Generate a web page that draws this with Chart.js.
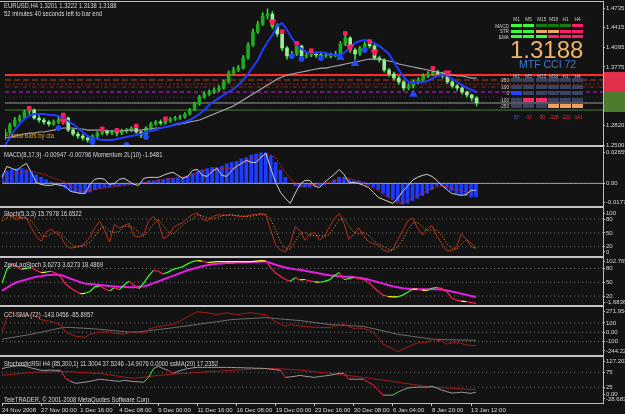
<!DOCTYPE html>
<html>
<head>
<meta charset="utf-8">
<script src="https://cdn.jsdelivr.net/npm/chart.js@4.4.1/dist/chart.umd.min.js"></script>
<style>
  html, body { margin: 0; padding: 0; background: #131313; }
  #wrap { position: relative; width: 625px; height: 414px; overflow: hidden; background: #131313; }
  #wrap canvas { position: absolute; left: 0; }
  .txt { position: absolute; white-space: nowrap; font-family: "Liberation Sans", Arial, sans-serif; font-size: 7px; line-height: 7px; color: #d8d8d8; transform: scaleX(0.84); transform-origin: 0 0; }
  .box { position: absolute; }
</style>
</head>
<body>
<div id="wrap"></div>
<script>
// ---- data: 8-hour bars ----
const dateTicks = ["24 Nov 2008", "27 Nov 00:00", "1 Dec 16:00", "4 Dec 08:00", "9 Dec 00:00", "11 Dec 16:00",
  "16 Dec 08:00", "19 Dec 00:00", "23 Dec 16:00", "30 Dec 08:00", "6 Jan 04:00", "8 Jan 20:00", "13 Jan 12:00"];

const opens = [1.2650,1.2713,1.2827,1.2909,1.2941,1.3039,1.3072,1.2941,1.2909,1.2876,
  1.2844,1.2876,1.2909,1.2941,1.2746,1.2680,1.2648,1.2615,1.2583,1.2648,
  1.2697,1.2729,1.2697,1.2713,1.2697,1.2729,1.2746,1.2778,1.2713,1.2664,
  1.2778,1.2844,1.2876,1.2860,1.2892,1.2925,1.2941,1.2958,1.3007,1.3072,
  1.3170,1.3284,1.3333,1.3365,1.3398,1.3431,1.3529,1.3675,1.3724,1.3757,
  1.3920,1.4132,1.4344,1.4474,1.4605,1.4637,1.4441,1.4311,1.4083,1.3953,
  1.3985,1.4116,1.3953,1.3969,1.3985,1.3969,1.3953,1.3969,1.3953,1.3985,
  1.4148,1.4246,1.4050,1.3985,1.4083,1.4148,1.4116,1.3920,1.3887,1.3724,
  1.3659,1.3594,1.3529,1.3431,1.3463,1.3529,1.3561,1.3626,1.3659,1.3692,
  1.3659,1.3626,1.3529,1.3463,1.3431,1.3365,1.3317,1.3268];
const highs = [1.2760,1.2860,1.2950,1.2990,1.3070,1.3110,1.3090,1.2980,1.2940,1.2900,
  1.2910,1.2950,1.2985,1.2960,1.2770,1.2710,1.2680,1.2640,1.2670,1.2720,
  1.2760,1.2750,1.2740,1.2730,1.2760,1.2770,1.2800,1.2800,1.2730,1.2800,
  1.2870,1.2900,1.2910,1.2920,1.2950,1.2970,1.2990,1.3030,1.3100,1.3200,
  1.3310,1.3370,1.3400,1.3430,1.3470,1.3560,1.3710,1.3770,1.3800,1.3960,
  1.4170,1.4390,1.4520,1.4660,1.4720,1.4680,1.4480,1.4350,1.4110,1.4030,
  1.4170,1.4130,1.4010,1.4040,1.4020,1.4000,1.4000,1.4000,1.4030,1.4190,
  1.4310,1.4270,1.4080,1.4110,1.4180,1.4190,1.4140,1.3950,1.3910,1.3750,
  1.3690,1.3620,1.3550,1.3500,1.3560,1.3600,1.3660,1.3700,1.3740,1.3720,
  1.3690,1.3660,1.3550,1.3490,1.3450,1.3380,1.3330,1.3290];
const lows = [1.2590,1.2690,1.2800,1.2880,1.2920,1.3000,1.2920,1.2870,1.2840,1.2810,
  1.2820,1.2850,1.2880,1.2720,1.2650,1.2610,1.2580,1.2545,1.2560,1.2620,
  1.2670,1.2660,1.2670,1.2650,1.2670,1.2700,1.2720,1.2690,1.2620,1.2640,
  1.2760,1.2820,1.2830,1.2840,1.2870,1.2900,1.2920,1.2940,1.2990,1.3060,
  1.3150,1.3260,1.3310,1.3340,1.3370,1.3410,1.3510,1.3650,1.3700,1.3740,
  1.3900,1.4110,1.4320,1.4450,1.4560,1.4400,1.4270,1.4040,1.3900,1.3920,
  1.3960,1.3910,1.3920,1.3940,1.3930,1.3920,1.3930,1.3920,1.3940,1.3960,
  1.4120,1.4010,1.3850,1.3960,1.4050,1.4080,1.3890,1.3850,1.3690,1.3620,
  1.3560,1.3490,1.3390,1.3400,1.3430,1.3500,1.3540,1.3600,1.3640,1.3620,
  1.3590,1.3500,1.3430,1.3390,1.3330,1.3280,1.3220,1.3138];
const closes = [1.2713,1.2827,1.2909,1.2941,1.3039,1.3072,1.2941,1.2909,1.2876,1.2844,
  1.2876,1.2909,1.2941,1.2746,1.2680,1.2648,1.2615,1.2583,1.2648,1.2697,
  1.2729,1.2697,1.2713,1.2697,1.2729,1.2746,1.2778,1.2713,1.2664,1.2778,
  1.2844,1.2876,1.2860,1.2892,1.2925,1.2941,1.2958,1.3007,1.3072,1.3170,
  1.3284,1.3333,1.3365,1.3398,1.3431,1.3529,1.3675,1.3724,1.3757,1.3920,
  1.4132,1.4344,1.4474,1.4605,1.4637,1.4441,1.4311,1.4083,1.3953,1.3985,
  1.4116,1.3953,1.3969,1.3985,1.3969,1.3953,1.3969,1.3953,1.3985,1.4148,
  1.4246,1.4050,1.3985,1.4083,1.4148,1.4116,1.3920,1.3887,1.3724,1.3659,
  1.3594,1.3529,1.3431,1.3463,1.3529,1.3561,1.3626,1.3659,1.3692,1.3659,
  1.3626,1.3529,1.3463,1.3431,1.3365,1.3317,1.3268,1.3188];
const fastMA = [1.2501,1.2615,1.2746,1.2843,1.2925,1.2974,1.3006,1.3006,1.3006,1.2990,
  1.2990,1.2974,1.2941,1.2892,1.2843,1.2778,1.2713,1.2647,1.2615,1.2598,
  1.2582,1.2582,1.2582,1.2598,1.2615,1.2631,1.2647,1.2664,1.2680,1.2713,
  1.2729,1.2746,1.2778,1.2794,1.2810,1.2843,1.2859,1.2876,1.2908,1.2957,
  1.3006,1.3071,1.3153,1.3218,1.3267,1.3316,1.3365,1.3414,1.3479,1.3561,
  1.3659,1.3773,1.3887,1.4050,1.4181,1.4295,1.4441,1.4490,1.4376,1.4246,
  1.4132,1.4066,1.4017,1.4001,1.4001,1.4017,1.4001,1.3968,1.3968,1.3968,
  1.4017,1.4099,1.4164,1.4197,1.4213,1.4197,1.4164,1.4115,1.4050,1.3985,
  1.3854,1.3724,1.3610,1.3528,1.3512,1.3528,1.3528,1.3544,1.3593,1.3626,
  1.3642,1.3626,1.3577,1.3528,1.3479,1.3430,1.3398,1.3365];
const slowMA = [1.2615,1.2631,1.2647,1.2664,1.2680,1.2696,1.2696,1.2713,1.2713,1.2729,
  1.2745,1.2762,1.2778,1.2778,1.2778,1.2762,1.2762,1.2745,1.2745,1.2745,
  1.2745,1.2729,1.2729,1.2729,1.2729,1.2745,1.2745,1.2745,1.2745,1.2762,
  1.2762,1.2778,1.2778,1.2794,1.2810,1.2827,1.2843,1.2859,1.2876,1.2892,
  1.2908,1.2941,1.2974,1.3006,1.3039,1.3071,1.3104,1.3137,1.3186,1.3234,
  1.3283,1.3332,1.3381,1.3430,1.3479,1.3528,1.3577,1.3610,1.3642,1.3659,
  1.3675,1.3691,1.3707,1.3724,1.3740,1.3756,1.3756,1.3773,1.3789,1.3805,
  1.3822,1.3838,1.3854,1.3871,1.3887,1.3903,1.3903,1.3903,1.3887,1.3871,
  1.3854,1.3822,1.3805,1.3789,1.3773,1.3756,1.3740,1.3724,1.3707,1.3691,
  1.3675,1.3659,1.3642,1.3626,1.3626,1.3610,1.3593,1.3593];

// horizontal levels across the price window
const levelPrices = [1.3642, 1.3561, 1.3495, 1.3447, 1.3365, 1.3283, 1.3186, 1.3071];
// coloured zones on the price scale
const zoneHigh = [1.3691, 1.3365];
const zoneLow = [1.3365, 1.3039];

// fractal / signal markers: bar index and price
const fractalHighIdx = [5, 12, 20, 23, 27, 33, 57, 60, 63, 70, 75, 88];
const fractalHighVal = [1.3100, 1.2990, 1.2765, 1.2740, 1.2810, 1.2930, 1.4350, 1.4160, 1.4040, 1.4320, 1.4190, 1.3750];
const fractalLowIdx = [11, 18, 25, 29, 59, 61, 65, 74];
const fractalLowVal = [1.2778, 1.2550, 1.2501, 1.2631, 1.3952, 1.3903, 1.3919, 1.4050];
const sellArrowIdx = [12, 55, 71, 76, 91];
const sellArrowVal = [1.2892, 1.4507, 1.4099, 1.4017, 1.3675];
const buyArrowIdx = [69, 72, 84];
const buyArrowVal = [1.3930, 1.3830, 1.3330];
const priceTicks = [1.4735, 1.4415, 1.4095, 1.3775, 1.2820, 1.2500];

const macdHist = [0.008,0.010,0.011,0.012,0.012,0.011,0.009,0.007,0.005,0.003,
  0.001,-0.001,-0.002,-0.004,-0.006,-0.007,-0.008,-0.008,-0.007,-0.005,
  -0.004,-0.003,-0.003,-0.002,-0.002,-0.001,-0.001,-0.001,0.000,0.001,
  0.002,0.002,0.003,0.003,0.004,0.004,0.004,0.005,0.006,0.008,
  0.010,0.011,0.012,0.013,0.013,0.014,0.016,0.017,0.018,0.020,
  0.021,0.023,0.024,0.025,0.025,0.022,0.017,0.011,0.005,0.000,
  -0.002,-0.003,-0.003,-0.003,-0.002,-0.002,-0.001,0.000,0.003,0.005,
  0.005,0.003,0.002,0.002,0.001,-0.001,-0.003,-0.005,-0.008,-0.011,
  -0.013,-0.015,-0.017,-0.016,-0.014,-0.012,-0.010,-0.008,-0.005,-0.002,
  -0.002,-0.004,-0.006,-0.008,-0.009,-0.010,-0.011,-0.011];
const macdSignal = [0.000,0.003,0.006,0.008,0.009,0.010,0.010,0.009,0.008,0.007,
  0.005,0.004,0.002,0.001,-0.002,-0.004,-0.006,-0.007,-0.006,-0.005,
  -0.004,-0.004,-0.003,-0.003,-0.002,-0.002,-0.001,0.000,0.000,0.001,
  0.001,0.002,0.002,0.003,0.004,0.004,0.005,0.005,0.006,0.007,
  0.008,0.010,0.011,0.011,0.011,0.012,0.012,0.012,0.014,0.016,
  0.018,0.020,0.021,0.022,0.023,0.023,0.021,0.015,0.009,0.004,
  0.000,-0.002,-0.002,-0.001,-0.001,0.000,0.000,0.001,0.002,0.003,
  0.004,0.004,0.003,0.002,0.000,-0.002,-0.004,-0.006,-0.009,-0.011,
  -0.014,-0.016,-0.016,-0.014,-0.012,-0.010,-0.008,-0.006,-0.004,-0.003,
  -0.002,-0.003,-0.004,-0.005,-0.006,-0.007,-0.008,-0.009];
const momentum = [0.0049,0.0138,0.0122,0.0106,0.0138,0.0163,0.0090,0.0008,-0.0008,-0.0016,
  -0.0016,-0.0008,-0.0016,-0.0024,-0.0065,-0.0073,-0.0081,-0.0081,-0.0008,0.0033,
  0.0041,0.0033,-0.0008,0.0000,0.0033,0.0041,0.0016,-0.0008,-0.0016,0.0041,
  0.0049,0.0049,0.0049,0.0065,0.0081,0.0090,0.0065,0.0041,0.0057,0.0106,
  0.0114,0.0065,0.0057,0.0098,0.0122,0.0065,0.0057,0.0106,0.0138,0.0163,
  0.0187,0.0171,0.0171,0.0212,0.0244,0.0122,0.0008,-0.0073,-0.0122,-0.0163,
  -0.0081,-0.0008,0.0024,0.0024,-0.0024,-0.0033,0.0008,0.0041,0.0073,0.0114,
  0.0073,0.0008,0.0008,0.0000,-0.0016,-0.0033,-0.0073,-0.0114,-0.0130,-0.0147,
  -0.0163,-0.0122,-0.0065,-0.0024,0.0024,0.0049,0.0065,0.0073,0.0057,0.0024,
  -0.0016,-0.0049,-0.0081,-0.0090,-0.0098,-0.0090,-0.0057,-0.0057];

const stochMain = [82,92,85,80,83,83,61,43,32,51, 58,49,43,24,17,19,22,27,41,61,
  75,55,30,68,61,65,71,44,41,46, 76,86,74,38,43,61,68,72,83,90,
  93,80,76,85,89,89,88,89,87,85, 86,89,90,92,89,56,24,13,9,26,
  64,55,34,47,51,34,43,63,81,92, 70,36,47,61,44,31,27,24,13,9,
  15,36,55,75,83,61,46,59,66,43, 27,12,11,19,48,37,21,16];
const stochSignal = [76,83,86,86,82,82,75,62,45,42, 47,53,50,38,28,20,20,23,30,43,
  59,64,54,51,53,65,65,60,52,43, 54,70,79,66,52,48,57,67,75,81,
  89,87,83,81,83,87,89,89,88,87, 86,86,88,90,90,79,56,31,15,15,
  32,48,51,45,44,44,43,47,62,78, 81,65,51,48,51,45,34,27,21,15,
  12,20,36,55,71,73,64,55,57,56, 45,27,17,14,26,35,28,17];

const zlsMain = [48,78,89,85,78,80,82,76,71,72, 74,70,62,46,38,31,25,26,30,40,
  42,36,31,38,34,44,52,44,36,48, 64,76,74,68,72,78,81,84,90,95,
  97,96,93,94,95,95,95,95,95,95, 95,95,96,97,96,82,70,63,56,52,
  60,55,56,53,51,50,52,55,64,71, 56,58,61,58,56,50,40,30,22,19,
  18,18,22,28,35,35,33,32,37,39, 36,30,16,11,9,8,6,4];
const zlsSignal = [32,38,45,50,53,56,59,62,63,65, 66,67,66,62,58,54,50,47,46,45,
  44,43,42,41,40,40,39,39,40,41, 44,48,52,56,60,64,68,72,76,79,
  82,85,87,89,90,91,92,92,93,93, 93,94,94,95,95,92,88,85,82,80,
  78,77,75,73,71,69,67,65,64,63, 62,62,61,60,58,56,53,50,47,44,
  41,39,37,36,35,35,35,35,35,35, 34,32,30,28,25,23,20,18];

const cciMain = [0,168,221,195,168,180,189,160,137,125, 116,100,84,0,-20,-42,-48,-53,-21,-10,
  0,5,0,-10,-15,-21,-5,10,0,-10, 32,48,63,70,78,84,110,137,168,195,
  221,215,210,200,189,200,210,200,189,195, 205,210,200,195,189,150,116,90,63,84,
  75,68,63,58,53,55,50,53,65,75, 84,60,42,45,42,20,0,-60,-126,-155,
  -179,-210,-185,-158,-135,-116,-110,-105,-74,-85, -95,-126,-115,-105,-120,-137,-141,-143];
const cciSma = [-74,-66,-57,-48,-39,-30,-21,-10,0,12, 24,36,46,53,52,49,46,43,40,36,
  32,27,22,17,12,7,3,0,5,11, 17,23,29,36,42,49,56,63,70,77,
  84,92,100,107,114,121,129,137,140,143, 146,149,152,155,158,153,148,144,139,135,
  130,126,119,112,105,98,91,84,81,78, 75,72,69,66,63,51,39,27,15,3,
  -9,-21,-29,-36,-44,-51,-59,-66,-74,-76, -78,-80,-81,-82,-83,-84,-85,-86];

const srsiMain = [88,92,95,97,98,95,90,86,82,82, 83,82,82,55,45,38,40,42,45,48,
  52,50,48,46,45,48,46,44,43,42, 58,88,95,88,82,72,78,84,88,90,
  92,92,92,92,92,92,92,92,91,91, 90,90,89,89,88,86,84,82,58,60,
  62,65,62,60,58,61,63,65,68,72, 72,52,52,52,52,42,32,15,-2,-2,
  -2,8,15,22,24,25,25,25,28,22, 15,10,5,6,8,6,4,8];
const srsiMA = [65,67,68,70,72,73,75,76,76,77, 77,78,78,78,77,76,75,74,73,72,
  72,69,67,64,62,59,57,55,57,59, 61,63,65,66,68,69,70,71,72,74,
  75,76,77,78,79,80,81,82,83,84, 85,86,87,87,88,88,88,87,86,85,
  84,83,81,79,77,75,74,72,70,68, 66,64,62,60,58,56,53,51,49,47,
  44,42,39,37,34,32,30,27,25,24, 23,22,21,20,19,18,17,17];

// dashboard values
const lastBar = [1.3201, 1.3222, 1.3138, 1.3188];
const tfLabels = ["M1", "M5", "M15", "M30", "H1", "H4"];
const signalRows = ["MACD", "STR", "EMA"];
const signalStates = [[2, 2, 1, 1, 1, -1], [2, 2, 0, 0, -1, -1], [2, 2, 2, -1, -1, -1]];
const cciBandLabels = ["250", "100", "0", "-100", "-250"];
const cciByTf = [57, -17, -39, -128, -122, -141];

// ---- layout ----
const slotCount = 124;
const barsPerDate = 8;
const labels = [];
for (let i = 0; i < slotCount; i++) {
  labels.push(i % barsPerDate === 0 ? (dateTicks[i / barsPerDate] || "") : "");
}

const wrap = document.getElementById("wrap");
Chart.defaults.font.family = '"Liberation Sans", Arial, sans-serif';
Chart.defaults.font.size = 6;
Chart.defaults.color = "#d8d8d8";

function lineDs(data, color, width, dash) {
  return { type: "line", data, borderColor: color, borderWidth: width, borderDash: dash || [],
    pointRadius: 0, fill: false, tension: 0 };
}
function levelDs(value, color, width, dash) {
  return lineDs(labels.map(() => value), color, width, dash);
}
function markerDs(idx, vals, style, color, radius, rotation) {
  const data = labels.map((_, i) => {
    const k = idx.indexOf(i);
    return k < 0 ? null : vals[k];
  });
  return { type: "line", data, showLine: false, pointStyle: style, pointRadius: radius,
    pointRotation: rotation || 0, pointBackgroundColor: color, pointBorderColor: color, pointBorderWidth: 1 };
}

function panel(top, bottom, cfg) {
  const padTop = 6;
  const padBottom = cfg.dates ? 0 : 6;
  const axisH = cfg.dates ? 11 : 0;
  const h = bottom - top + padTop + padBottom + axisH;
  const canvas = document.createElement("canvas");
  canvas.width = 625;
  canvas.height = h;
  canvas.style.top = (top - padTop) + "px";
  wrap.appendChild(canvas);
  return new Chart(canvas, {
    type: "line",
    data: { labels, datasets: cfg.datasets },
    options: {
      responsive: false,
      animation: false,
      devicePixelRatio: 1,
      layout: { padding: { top: padTop, bottom: padBottom, left: 2, right: 0 } },
      plugins: { legend: { display: false }, tooltip: { enabled: false } },
      scales: {
        x: {
          type: "category",
          offset: false,
          display: !!cfg.dates,
          grid: { offset: false, drawOnChartArea: false, drawTicks: true, tickLength: 3,
            color: (c) => (labels[c.index] ? "#bdbdbd" : "rgba(0,0,0,0)") },
          border: { display: true, color: "#bdbdbd" },
          ticks: { autoSkip: false, maxRotation: 0, minRotation: 0, align: "start", padding: 1,
            color: "#d8d8d8", callback: (v, i) => labels[i] },
          afterFit: (s) => { s.height = axisH; }
        },
        y: {
          position: "right",
          min: cfg.min,
          max: cfg.max,
          beginAtZero: false,
          grid: { drawOnChartArea: false, drawTicks: true, tickLength: 2, color: "#bdbdbd" },
          border: { display: true, color: "#bdbdbd" },
          ticks: { padding: 1, color: "#d8d8d8", callback: (v, i) => cfg.tickText[i] },
          afterBuildTicks: (s) => { s.ticks = cfg.tickValues.map((v) => ({ value: v })); },
          afterFit: (s) => { s.width = 22; }
        }
      }
    },
    plugins: cfg.plugins || []
  });
}

// coloured price zones drawn in the price-scale strip
const zonePlugin = {
  id: "zones",
  afterDraw(chart) {
    const y = chart.scales.y;
    const ctx = chart.ctx;
    const left = chart.chartArea.right + 1;
    const colors = ["#e0304c", "#4e7c2e"];
    zoneHigh.forEach((hi, k) => {
      const t = y.getPixelForValue(hi);
      const b = y.getPixelForValue(zoneLow[k]);
      ctx.fillStyle = colors[k];
      ctx.fillRect(left, t, chart.width - left, b - t);
    });
  }
};

// ---- main price window ----
const levelColors = ["#ff2a2a", "#b4441c", "#a02828", "#7a3434", "#e020e0", "#4a4a22", "#9c9c9c", "#4f803f"];
const levelDash = [[], [6, 3], [2, 2], [4, 2, 1, 2], [4, 3], [1, 3], [], []];
const levelWidth = [2, 1, 1, 1, 1, 1, 1, 1];

panel(2, 145, {
  min: 1.2501, max: 1.4833,
  tickValues: priceTicks,
  tickText: priceTicks.map((v) => v.toFixed(4)),
  plugins: [zonePlugin],
  datasets: [
    markerDs(sellArrowIdx, sellArrowVal, "triangle", "#ff1f5a", 4, 180),
    markerDs(buyArrowIdx, buyArrowVal, "triangle", "#2448ff", 4, 0),
    markerDs(fractalHighIdx, fractalHighVal, "rect", "#ff1f5a", 2.5),
    markerDs(fractalLowIdx, fractalLowVal, "circle", "#2448ff", 2.5),
    lineDs(fastMA, "#1f3cff", 2),
    lineDs(slowMA, "#a8a8a8", 1.2),
    { type: "bar", data: opens.map((o, i) => [o, closes[i]]), grouped: false, barThickness: 3,
      backgroundColor: opens.map((o, i) => (closes[i] >= o ? "#1faa1f" : "#98ee98")), borderWidth: 0 },
    { type: "bar", data: lows.map((l, i) => [l, highs[i]]), grouped: false, barThickness: 1,
      backgroundColor: "#33dd33", borderWidth: 0 },
    ...levelPrices.map((p, k) => levelDs(p, levelColors[k], levelWidth[k], levelDash[k]))
  ]
});

// ---- MACD + momentum ----
panel(147, 206, {
  min: -0.0184, max: 0.0296,
  tickValues: [-0.0155, 0, 0.0255],
  tickText: ["-0.0177", "0.00", "0.026595"],
  datasets: [
    lineDs(momentum, "#cfcfcf", 1),
    lineDs(macdSignal, "#c81e1e", 1, [2, 1]),
    levelDs(0, "#a8a8a8", 1),
    { type: "bar", data: macdHist, grouped: false, barThickness: 3, backgroundColor: "#1e3cff", borderWidth: 0 }
  ]
});

// ---- Stochastic ----
panel(208, 256, {
  min: 0, max: 104,
  tickValues: [8.7, 20, 50, 80, 93],
  tickText: ["0", "20", "50", "80", "100"],
  datasets: [
    lineDs(stochSignal, "#ff9a1a", 1, [1, 2]),
    lineDs(stochMain, "#b8301c", 1),
    levelDs(80, "#6e6e6e", 1, [1, 3]),
    levelDs(50, "#6e6e6e", 1, [1, 3]),
    levelDs(20, "#6e6e6e", 1, [1, 3])
  ]
});

// ---- ZeroLag stochastic ----
const zlsMainDs = lineDs(zlsMain, "#33ff33", 1.2);
zlsMainDs.segment = {
  borderColor: (c) => {
    const d = c.p1.parsed.y - c.p0.parsed.y;
    return Math.abs(d) < 1.5 ? "#ffff20" : d > 0 ? "#33ff33" : "#ff1f55";
  }
};
panel(258, 306, {
  min: -1.6836, max: 102.7653,
  tickValues: [6.5, 20, 50, 80, 96],
  tickText: ["-1.6836", "20", "50", "80", "102.7653"],
  datasets: [
    zlsMainDs,
    lineDs(zlsSignal, "#e51ee5", 2),
    levelDs(80, "#7a7a7a", 1, [1, 3]),
    levelDs(50, "#7a7a7a", 1, [1, 3]),
    levelDs(20, "#7a7a7a", 1, [1, 3])
  ]
});

// ---- CCI + SMA ----
panel(307, 355, {
  min: -244.2207, max: 271.9544,
  tickValues: [-200, -100, 0, 100, 228],
  tickText: ["-244.2207", "-100", "0.00", "100", "271.9544"],
  datasets: [
    lineDs(cciMain, "#a81a1a", 1),
    lineDs(cciSma, "#6e6e6e", 1),
    levelDs(100, "#7a7a7a", 1, [1, 3]),
    levelDs(0, "#7a7a7a", 1, [1, 3]),
    levelDs(-100, "#7a7a7a", 1, [1, 3])
  ]
});

// ---- Stochastic RSI ----
const srsiDs = lineDs(srsiMain, "#9a9a9a", 1);
srsiDs.segment = {
  borderColor: (c) => {
    const d = c.p1.parsed.y - c.p0.parsed.y;
    return d > 8 ? "#2cff2c" : d < -8 ? "#ff1f55" : "#9a9a9a";
  }
};
panel(357, 403, {
  dates: true,
  min: -28.6833, max: 127.2027,
  tickValues: [-15, 0, 25, 75, 113],
  tickText: ["-28.6833", "0.00", "25", "75", "127.2027"],
  datasets: [
    srsiDs,
    lineDs(srsiMA, "#a81a1a", 1),
    levelDs(75, "#6a6a6a", 1, [1, 3]),
    levelDs(25, "#6a6a6a", 1, [1, 3])
  ]
});

// ---- frame, captions and dashboard ----
function addBox(left, top, w, h, color) {
  const el = document.createElement("div");
  el.className = "box";
  Object.assign(el.style, { left: left + "px", top: top + "px", width: w + "px", height: h + "px", background: color });
  wrap.appendChild(el);
}
function addText(text, left, top, style) {
  const el = document.createElement("div");
  el.className = "txt";
  el.textContent = text;
  el.style.left = left + "px";
  el.style.top = top + "px";
  Object.assign(el.style, style || {});
  if (el.style.textAlign === "center") el.style.transformOrigin = "50% 0";
  if (el.style.textAlign === "right") el.style.transformOrigin = "100% 0";
  wrap.appendChild(el);
  return el;
}

addBox(0, 1, 604, 1, "#bdbdbd");
[145, 206, 256, 305, 355].forEach((y) => addBox(0, y, 604, 2, "#c4c4c4"));

addText("EURUSD,H4  " + lastBar.map((v) => v.toFixed(4)).join(" "), 4, 2);
addText("52 minutes 40 seconds left to bar end", 4, 10);
addText("Fractal Bars by cta", 5, 132, { color: "#e0a030" });
addText("MACD(8,17,9) -0.00947 -0.00796  Momentum 2L(10) -1.6481", 4, 151);
addText("Stoch(5,3,3) 15.7978 16.6522", 4, 210);
addText("ZeroLagStoch 3.6273 3.6273 18.4869", 4, 261);
addText("CCI-SMA (72) -143.0456 -85.8957", 4, 311);
addText("StochasticRSI H4 (85,300,1) 11.3004 37.5246 -14.9076 0.0000  ssMA(20) 17.2352", 4, 360);
addText("TeleTRADER, \u00a9 2001-2008 MetaQuotes Software Corp.", 4, 396);

const colX = [511, 523, 536, 548, 560, 572];
const small = { fontSize: "6px", lineHeight: "6px", width: "11px", textAlign: "center", transform: "scaleX(0.78)" };
const stateColor = { "2": "#36ff36", "1": "#157c15", "0": "#e8a860", "-1": "#ff1f66" };
tfLabels.forEach((t, c) => addText(t, colX[c], 16, Object.assign({ color: "#cfcfcf" }, small)));
signalRows.forEach((name, r) => {
  const top = 24 + r * 5.5;
  addText(name, 480, top - 1.5, { fontSize: "6px", lineHeight: "6px", width: "29px", textAlign: "right", color: "#cfcfcf", transform: "scaleX(0.78)" });
  signalStates[r].forEach((s, c) => addBox(colX[c], top, 11, 3, stateColor[String(s)]));
});

addText(closes[closes.length - 1].toFixed(4), 510, 38,
  { fontSize: "24px", lineHeight: "24px", color: "#f2b46c", transform: "none" });
addText("MTF CCI 72", 519, 59,
  { fontSize: "10.5px", lineHeight: "10px", color: "#3a7bd8", transform: "none" });

tfLabels.forEach((t, c) => addText(t, colX[c], 73, Object.assign({ color: "#bdbdbd" }, small)));
const bandTops = [78, 84.5, 91, 97.5, 104];
const bandColors = ["#3d4262", "#3d4262", "#2244ff", "#ff2a6a", "#f0a060"];
cciBandLabels.forEach((name, r) => {
  addText(name, 480, bandTops[r] - 1, { fontSize: "6px", lineHeight: "6px", width: "29px", textAlign: "right", color: "#cfcfcf", transform: "scaleX(0.78)" });
});
cciByTf.forEach((v, c) => {
  const band = v >= 250 ? 0 : v >= 100 ? 1 : v >= 0 ? 2 : v >= -100 ? 3 : 4;
  bandTops.forEach((top, r) => addBox(colX[c], top, 11, 4, r === band ? bandColors[r] : "#3d4262"));
  addText(String(v), colX[c], 114, Object.assign({}, small, { color: v > 0 ? "#3a70ff" : "#ff3030" }));
});
</script>
</body>
</html>
